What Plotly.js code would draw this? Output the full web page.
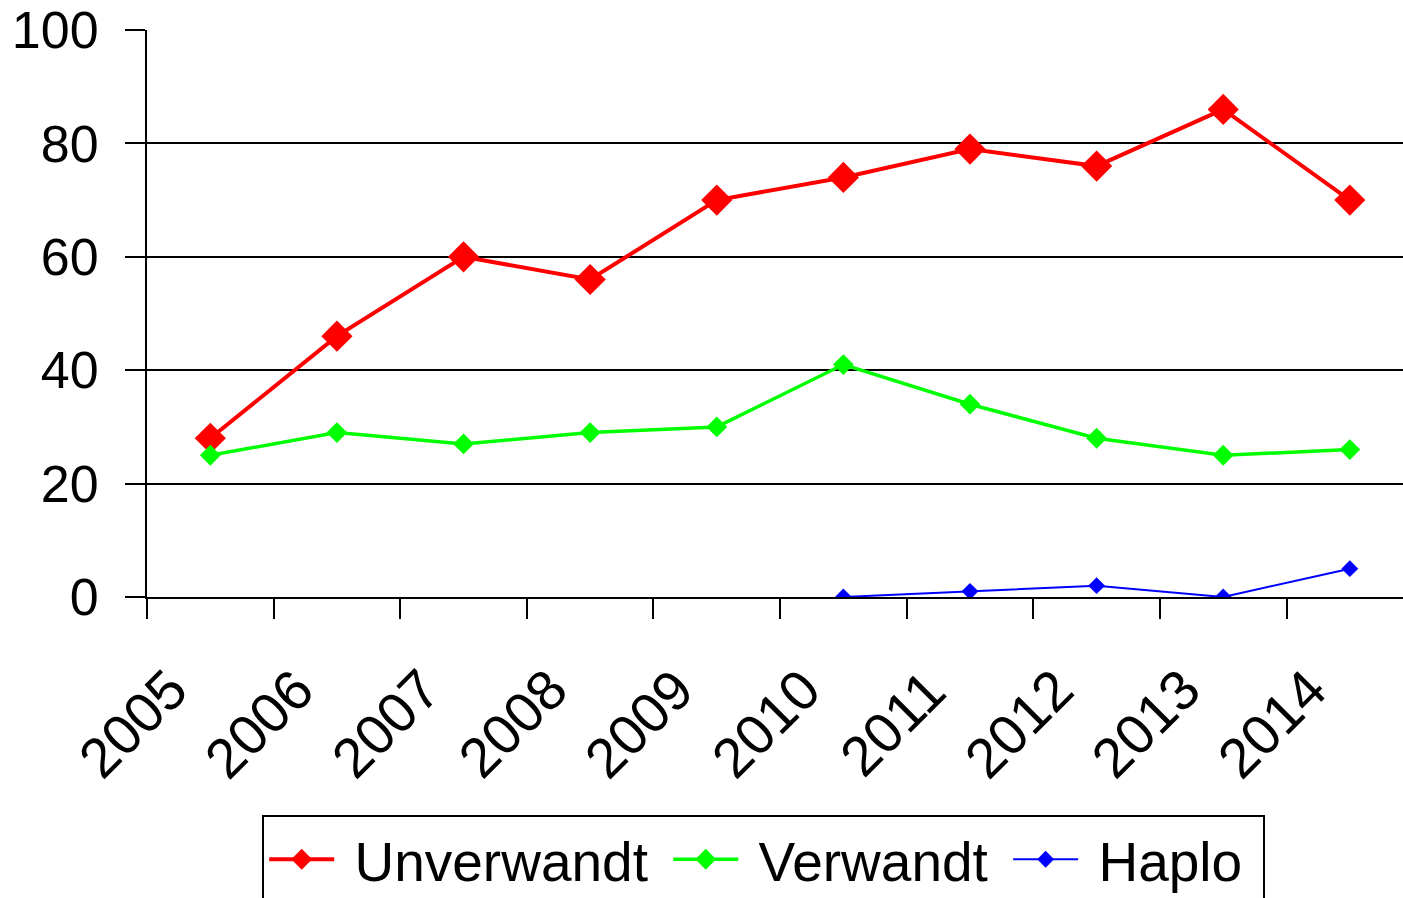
<!DOCTYPE html>
<html>
<head>
<meta charset="utf-8">
<script src="https://cdn.plot.ly/plotly-3.0.1.min.js"></script>
<style>html,body{margin:0;padding:0;background:#fff;overflow:hidden;}#chart{width:1403px;height:910px;}</style>
</head>
<body>
<div id="chart"></div>
<script>
const years = ["2005","2006","2007","2008","2009","2010","2011","2012","2013","2014"];
const unverwandt = [28, 46, 60, 56, 70, 74, 79, 76, 86, 70];
const verwandt = [25, 29, 27, 29, 30, 41, 34, 28, 25, 26];
const haploYears = ["2010","2011","2012","2013","2014"];
const haplo = [0, 1, 2, 0, 5];
const yTicks = [0, 20, 40, 60, 80, 100];
const seriesNames = ["Unverwandt", "Verwandt", "Haplo"];

const fontFam = "Liberation Sans, Arial, sans-serif";
const nb = "\u00A0";
const traces = [
  {x: years, y: unverwandt, name: nb + seriesNames[0] + nb, type: "scatter", mode: "lines+markers",
   line: {color: "#ff0000", width: 4}, marker: {symbol: "diamond", size: 24, color: "#ff0000"}},
  {x: years, y: verwandt, name: nb + seriesNames[1] + nb, type: "scatter", mode: "lines+markers",
   line: {color: "#00ff00", width: 3.5}, marker: {symbol: "diamond", size: 16, color: "#00ff00"}},
  {x: haploYears, y: haplo, name: nb + seriesNames[2] + nb, type: "scatter", mode: "lines+markers",
   line: {color: "#0000ff", width: 2}, marker: {symbol: "diamond", size: 13, color: "#0000ff"}}
];
const yearLabels = years.map(function (yr, i) {
  return {x: i, y: 0, xref: "x", yref: "paper", text: yr, showarrow: false,
    textangle: -45, xanchor: "center", yanchor: "middle", xshift: -78, yshift: -126,
    font: {family: fontFam, size: 56, color: "#000"}};
});
const layout = {
  width: 1403, height: 910,
  margin: {l: 147, r: 0, t: 30, b: 313},
  paper_bgcolor: "#fff", plot_bgcolor: "#fff",
  font: {family: fontFam, size: 50, color: "#000"},
  showlegend: true,
  legend: {orientation: "h", x: 0.491, xanchor: "center", y: -0.3845, yanchor: "top",
    bordercolor: "#000", borderwidth: 2, bgcolor: "#fff", itemwidth: 65,
    font: {family: fontFam, size: 55, color: "#000"}},
  annotations: yearLabels,
  xaxis: {type: "category", categoryorder: "array", categoryarray: years,
    range: [-0.5, 9.42], tickson: "boundaries", ticks: "outside", ticklen: 20, tickwidth: 2,
    tickcolor: "#000", showgrid: false, showline: true, linecolor: "#000", linewidth: 2,
    showticklabels: false, zeroline: false},
  yaxis: {range: [0, 100], tickvals: yTicks, ticks: "outside", ticklen: 20, tickwidth: 2,
    tickcolor: "#000", showgrid: true, gridcolor: "#000", gridwidth: 2,
    showline: true, linecolor: "#000", linewidth: 2, zeroline: false, ticklabelstandoff: 16,
    tickfont: {family: fontFam, size: 52, color: "#000"}}
};
Plotly.newPlot("chart", traces, layout, {displayModeBar: false, staticPlot: true});
</script>
</body>
</html>
